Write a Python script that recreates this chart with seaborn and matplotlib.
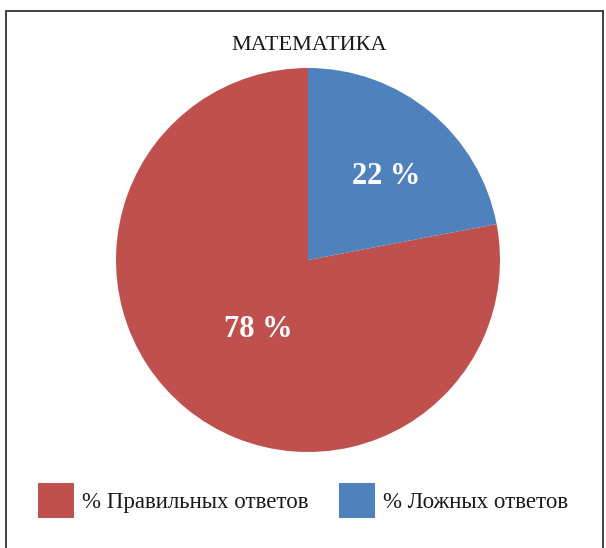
import matplotlib
matplotlib.use('Agg')
import matplotlib.pyplot as plt
import seaborn as sns
from matplotlib.patches import Rectangle

# Data
title = "МАТЕМАТИКА"
labels = ['% Правильных ответов', '% Ложных ответов']
values = [78, 22]
colors = ['#C0504D', '#4F81BD']

sns.set_theme(style='white')
plt.rcParams['font.family'] = ['Liberation Serif', 'DejaVu Serif']

fig = plt.figure(figsize=(6.06, 5.48), dpi=100)
fig.patch.set_facecolor('white')

# Pie axes (center ~ (308, 260) px, radius ~192 px)
ax = fig.add_axes([0.1914, 0.1752, 0.6337, 0.7007])
wedges, texts, autotexts = ax.pie(values, colors=colors, startangle=90,
                                  autopct=lambda p: f'{p:.0f} %',
                                  wedgeprops=dict(linewidth=0),
                                  textprops=dict(color='white', fontsize=22, fontweight='bold'))
ax.set_xlim(-1, 1)
ax.set_ylim(-1, 1)

# Label placement in pie units (as in the original)
label_pos = [(-0.26, -0.36), (0.409, 0.435)]
for t, p in zip(autotexts, label_pos):
    t.set_position(p)

# Title
fig.text(0.511, 1 - 46 / 548, title, ha='center', va='center', fontsize=16, color='#1a1a1a')

# Legend
fig.legend(wedges, labels, loc='center', bbox_to_anchor=(0.5, 1 - 500.5 / 548),
           ncol=2, frameon=False, fontsize=16.5, handlelength=1.57, handleheight=1.98,
           handletextpad=0.38, columnspacing=1.3, labelcolor='#1a1a1a')

# Frame around the chart area
fig.patches.append(Rectangle((6 / 606, -0.05), 597 / 606, 1.05 - 11 / 548,
                             transform=fig.transFigure, fill=False,
                             edgecolor='#333333', linewidth=1.3))

fig.savefig('out.png', dpi=100)
